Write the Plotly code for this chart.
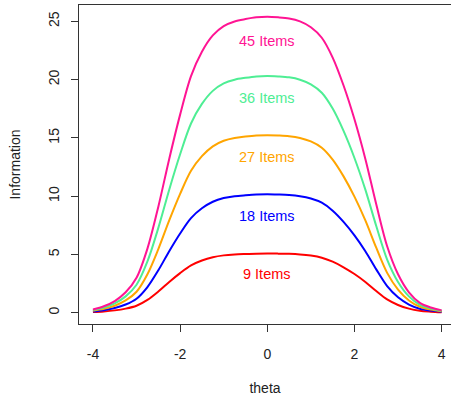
import plotly.graph_objects as go

theta = [-4.0, -3.75, -3.5, -3.25, -3.0, -2.75, -2.5, -2.25, -2.0, -1.75, -1.5, -1.25, -1.0,
         -0.75, -0.5, -0.25, 0.0, 0.25, 0.5, 0.75, 1.0, 1.25, 1.5, 1.75, 2.0, 2.25, 2.5,
         2.75, 3.0, 3.25, 3.5, 3.75, 4.0]

info_45 = [0.28, 0.55, 1.0, 1.75, 3.0, 5.5, 9.1, 13.2, 17.0, 20.3, 22.4, 23.8, 24.6, 25.0, 25.2,
           25.35, 25.4, 25.35, 25.25, 25.0, 24.5, 23.6, 21.9, 19.5, 16.6, 13.2, 9.3, 5.7, 3.3,
           1.75, 0.85, 0.45, 0.2]
info_36 = [0.22, 0.44, 0.8, 1.4, 2.4, 4.4, 7.28, 10.56, 13.6, 16.24, 17.92, 19.04, 19.68,
           20.0, 20.16, 20.28, 20.32, 20.28, 20.2, 20.0, 19.6, 18.88, 17.52, 15.6, 13.28,
           10.56, 7.44, 4.56, 2.64, 1.4, 0.68, 0.36, 0.16]
info_27 = [0.17, 0.33, 0.6, 1.05, 1.8, 3.3, 5.46, 7.92, 10.2, 12.18, 13.44, 14.28, 14.76,
           15.0, 15.12, 15.21, 15.24, 15.21, 15.15, 15.0, 14.7, 14.16, 13.14, 11.7, 9.96,
           7.92, 5.58, 3.42, 1.98, 1.05, 0.51, 0.27, 0.12]
info_18 = [0.11, 0.22, 0.4, 0.7, 1.2, 2.2, 3.64, 5.28, 6.8, 8.12, 8.96, 9.52, 9.84, 10.0,
           10.08, 10.14, 10.16, 10.14, 10.1, 10.0, 9.8, 9.44, 8.76, 7.8, 6.64, 5.28, 3.72,
           2.28, 1.32, 0.7, 0.34, 0.18, 0.08]
info_9 = [0.06, 0.11, 0.2, 0.35, 0.6, 1.1, 1.82, 2.64, 3.4, 4.06, 4.48, 4.76, 4.92, 5.0,
          5.04, 5.07, 5.08, 5.07, 5.05, 5.0, 4.9, 4.72, 4.38, 3.9, 3.32, 2.64, 1.86, 1.14,
          0.66, 0.35, 0.17, 0.09, 0.04]

series_names = ["9 Items", "18 Items", "27 Items", "36 Items", "45 Items"]
series_values = [info_9, info_18, info_27, info_36, info_45]
series_colors = ["#FF0000", "#0000FF", "#FFA500", "#4EEE94", "#FF1493"]
label_y = [3.34, 8.34, 13.4, 18.4, 23.3]
label_x = 0.0

x_ticks = [-4, -2, 0, 2, 4]
x_tick_text = ["-4", "-2", "0", "2", "4"]
y_ticks = [0, 5, 10, 15, 20, 25]

FONT = "Liberation Sans, Arial, sans-serif"
AXC = "#333333"

fig = go.Figure()
for name, vals, col in zip(series_names, series_values, series_colors):
    fig.add_trace(go.Scatter(x=theta, y=vals, mode="lines", name=name,
                             line=dict(color=col, width=2, shape="spline", smoothing=0.9)))

for name, ly, col in zip(series_names, label_y, series_colors):
    fig.add_annotation(x=label_x, y=ly, text=name, showarrow=False,
                       font=dict(family=FONT, size=14.5, color=col))

fig.update_layout(
    width=451, height=402,
    margin=dict(l=79, r=0, t=5, b=78, autoexpand=False),
    plot_bgcolor="white", paper_bgcolor="white",
    showlegend=False,
    font=dict(family=FONT, size=14, color="#222222"),
    xaxis=dict(range=[-4.32, 4.215], tickvals=x_ticks, ticktext=x_tick_text,
               ticks="outside", ticklen=7,
               tickcolor=AXC, showline=True, linecolor=AXC, linewidth=1, mirror=True,
               showgrid=False, zeroline=False, ticklabelstandoff=10, automargin=False,
               title=dict(text="theta", standoff=22, font=dict(size=14))),
    yaxis=dict(range=[-0.97, 26.41], tickvals=y_ticks, ticks="outside", ticklen=7,
               tickcolor=AXC, showline=True, linecolor=AXC, linewidth=1, mirror=False,
               showgrid=False, zeroline=False, tickangle=-90, ticklabelstandoff=6,
               automargin=False,
               title=dict(text="Information", standoff=22, font=dict(size=14))),
)

fig.write_html("out.html", config={"displayModeBar": False},
               post_script="document.body.style.margin='0';document.body.style.overflow='hidden';")
